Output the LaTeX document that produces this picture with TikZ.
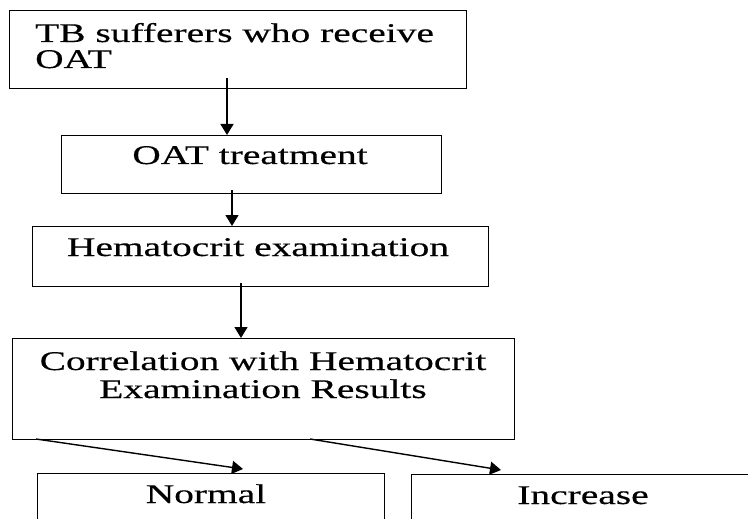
\documentclass[tikz,border=0pt]{standalone}
\usepackage{fontspec}
\setmainfont{Liberation Serif}[FakeStretch=1.46,FakeBold=0.4]
\usetikzlibrary{arrows.meta}
\begin{document}
\begin{tikzpicture}[x=1pt,y=-1pt,
  box/.style={draw, line width=1.4pt, inner sep=0pt, anchor=north west},
  arr/.style={line width=1.4pt, -{Triangle[length=11pt,width=13pt]}},
  txt/.style={font=\fontsize{27}{27}\selectfont, inner sep=0pt}]
\useasboundingbox (0,0) rectangle (748,519);
\clip (0,0) rectangle (748,519);
% boxes
\node[box, minimum width=457pt, minimum height=78pt] (b1) at (9,10) {};
\node[box, minimum width=380pt, minimum height=58pt] (b2) at (61,135) {};
\node[box, minimum width=456pt, minimum height=60pt] (b3) at (32,226) {};
\node[box, minimum width=502pt, minimum height=101pt] (b4) at (12,338) {};
\node[box, minimum width=347pt, minimum height=100pt] (b5) at (37,473) {};
\node[box, minimum width=400pt, minimum height=100pt] (b6) at (411,474) {};
% texts
\node[txt, anchor=base west] (t1a) at (35,42) {TB sufferers who receive};
\node[txt, anchor=base west] (t1b) at (35,68) {OAT};
\node[txt, anchor=base] (t2) at (250,164) {OAT treatment};
\node[txt, anchor=base] (t3) at (258,256) {Hematocrit examination};
\node[txt, anchor=base] (t4a) at (263,370) {Correlation with Hematocrit};
\node[txt, anchor=base] (t4b) at (263,398) {Examination Results};
\node[txt, anchor=base] (t5) at (206,503) {Normal};
\node[txt, anchor=base] (t6) at (583,504) {Increase};
% connector start points
\coordinate (s1) at (227,78);
\coordinate (s2) at (232,190);
\coordinate (s3) at (241,283);
\coordinate (s4) at (36,439);
\coordinate (e4) at (243,469);
\coordinate (s5) at (310,439);
\coordinate (e5) at (501,470);
% connectors
\draw[arr] (s1) -- (s1 |- b2.north);
\draw[arr] (s2) -- (s2 |- b3.north);
\draw[arr] (s3) -- (s3 |- b4.north);
\draw[arr] (s4) -- (e4);
\draw[arr] (s5) -- (e5);
\end{tikzpicture}
\end{document}
